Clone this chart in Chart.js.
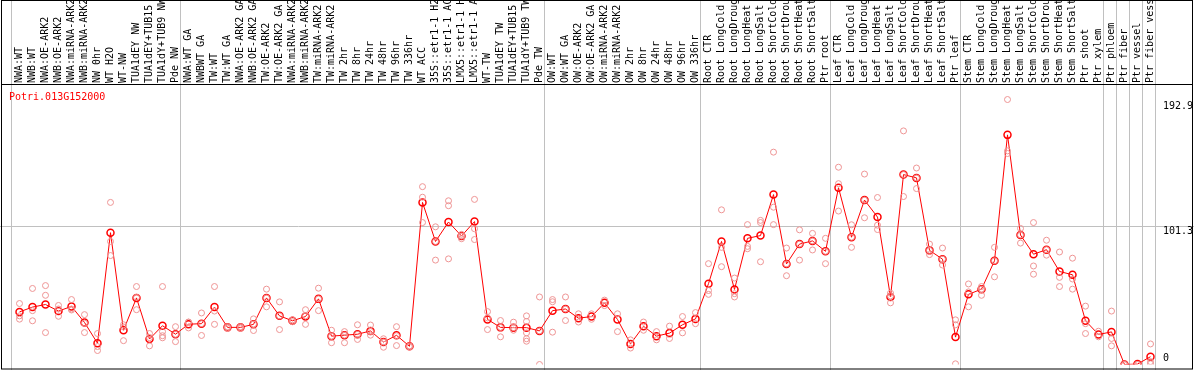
<!DOCTYPE html>
<html>
<head>
<meta charset="utf-8">
<script src="https://cdn.jsdelivr.net/npm/chart.js@4/dist/chart.umd.min.js"></script>
<style>
  html, body { margin: 0; padding: 0; background: #fff; }
</style>
</head>
<body>
<canvas id="chart" width="1194" height="370"></canvas>
<script>
// sample labels
const labels = [
  'NWA:WT', 'NWB:WT', 'NWA:OE-ARK2', 'NWB:OE-ARK2', 'NWA:miRNA-ARK2', 'NWB:miRNA-ARK2', 'NW 0hr', 'WT H2O', 'WT-NW',
  'TUA1dEY NW', 'TUA1dEY+TUB15', 'TUA1dY+TUB9 NW', 'Pde NW',
  'NWA:WT GA', 'NWBWT GA', 'TW:WT', 'TW:WT GA', 'NWA:OE-ARK2 GA', 'NWB:OE-ARK2 GA', 'TW:OE-ARK2', 'TW:OE-ARK2 GA',
  'NWA:miRNA-ARK2', 'NWB:miRNA-ARK2', 'TW:miRNA-ARK2', 'TW:miRNA-ARK2', 'TW 2hr', 'TW 8hr', 'TW 24hr', 'TW 48hr',
  'TW 96hr', 'TW 336hr', 'WT ACC', '35S::etr1-1 H2O', '35S::etr1-1 ACC', 'LMX5::etr1-1 H2O', 'LMX5::etr1-1 ACC',
  'WT-TW', 'TUA1dEY TW', 'TUA1dEY+TUB15', 'TUA1dY+TUB9 TW', 'Pde TW',
  'OW:WT', 'OW:WT GA', 'OW:OE-ARK2', 'OW:OE-ARK2 GA', 'OW:miRNA-ARK2', 'OW:miRNA-ARK2', 'OW 2hr', 'OW 8hr',
  'OW 24hr', 'OW 48hr', 'OW 96hr', 'OW 336hr',
  'Root CTR', 'Root LongCold', 'Root LongDrought', 'Root LongHeat', 'Root LongSalt', 'Root ShortCold',
  'Root ShortDrought', 'Root ShortHeat', 'Root ShortSalt', 'Ptr root',
  'Leaf CTR', 'Leaf LongCold', 'Leaf LongDrought', 'Leaf LongHeat', 'Leaf LongSalt', 'Leaf ShortCold',
  'Leaf ShortDrought', 'Leaf ShortHeat', 'Leaf ShortSalt', 'Ptr leaf',
  'Stem CTR', 'Stem LongCold', 'Stem LongDrought', 'Stem LongHeat', 'Stem LongSalt', 'Stem ShortCold',
  'Stem ShortDrought', 'Stem ShortHeat', 'Stem ShortSalt', 'Ptr shoot',
  'Ptr xylem', 'Ptr phloem', 'Ptr fiber', 'Ptr vessel', 'Ptr fiber vessel'
];

// mean expression per sample (red line)
const means = [
  38.4, 41.9, 43.8, 39.0, 42.4, 30.7, 15.5, 96.2, 25.0, 48.6, 18.6, 28.3, 22.1,
  29.4, 29.8, 41.9, 27.1, 27.1, 29.3, 48.6, 35.5, 31.9, 35.0, 47.9, 20.7, 21.4, 22.1, 24.5, 16.4,
  21.3, 13.3, 118.3, 89.8, 104.0, 93.8, 104.3, 32.9, 27.1, 26.9, 26.9, 24.5,
  39.3, 40.5, 33.8, 35.0, 45.0, 32.9, 15.0, 27.9, 20.7, 22.9, 29.0, 33.3,
  59.0, 89.8, 54.8, 92.1, 94.1, 124.0, 73.4, 87.9, 90.2, 82.6,
  129.0, 92.9, 120.0, 107.6, 49.3, 138.6, 136.2, 83.3, 76.9, 20.0,
  51.2, 55.0, 75.7, 167.6, 94.5, 80.5, 83.8, 67.9, 65.5, 31.9,
  21.9, 23.8, 0, 0.3, 5.7
];

// single replicates per sample (pale circles)
const reps = [
  [44.5, 35.5, 33.1], [55.5, 39.3, 31.9], [57.6, 50.5, 23.3], [43.1, 40.5, 35.2], [47.4, 40.5, 39.8],
  [36.4, 30.2, 23.3], [22.6, 13.1, 10.2], [118.3, 89.8, 79.5], [29.0, 27.4, 17.4], [56.9, 49.0, 40.0],
  [22.6, 19.6, 13.6], [56.9, 24.0, 21.0, 19.5], [27.6, 22.0, 16.7],
  [30.9, 31.0, 26.7], [37.6, 29.8, 21.2], [56.9, 39.0, 29.3], [27.6, 26.6], [27.6, 26.6],
  [33.3, 29.5, 24.8], [55.0, 48.6, 42.1], [45.7, 35.5, 25.5], [32.6, 31.2], [40.0, 35.5, 29.3],
  [55.7, 47.9, 39.3], [25.0, 20.7, 15.9], [24.0, 21.4, 15.9], [29.0, 22.0, 18.3], [28.8, 24.0, 21.4],
  [18.8, 16.4, 12.6], [27.6, 21.0, 13.8], [13.6, 12.8], [129.8, 122.1, 103.6], [100.5, 89.8, 76.2],
  [119.5, 115.9, 77.1], [95.0, 93.8, 91.8], [120.5, 99.1, 91.2], [38.6, 34.0, 25.5], [32.1, 27.0, 20.2],
  [30.9, 26.9, 25.0], [35.5, 31.4, 23.1, 18.8, 17.0], [49.3, 24.5, 0],
  [47.4, 45.8, 23.6], [49.3, 40.5, 32.1], [37.0, 31.0], [37.0, 33.0], [47.0, 43.0], [37.0, 24.0],
  [18.0, 12.0], [31.0, 25.0], [24.0, 18.0], [28.0, 19.0], [35.0, 23.1], [37.9, 29.8],
  [73.6, 54.0, 51.2], [112.9, 85.5, 71.4], [63.1, 51.7, 49.3], [102.1, 86.2, 84.5], [105.2, 103.6, 75.0],
  [155.0, 114.8, 102.1], [85.0, 73.4, 64.8], [98.3, 87.9, 76.2], [95.7, 90.2, 83.6], [92.1, 82.6, 73.6],
  [144.0, 132.0, 112.0], [102.0, 92.9, 85.5], [139.0, 120.0, 107.1], [121.9, 101.7, 98.5], [52.1, 50.0, 45.0],
  [170.5, 138.6, 122.6], [143.4, 136.2, 128.4], [87.9, 83.3, 80.2], [85.0, 76.9, 72.6], [32.6, 29.0, 0.5],
  [58.8, 53.0, 42.1], [56.9, 55.0, 50.5], [85.5, 75.7, 64.0], [193.4, 155.9, 154.0], [99.3, 94.5, 88.6],
  [103.6, 71.9, 65.9], [90.7, 83.8, 79.8], [82.1, 63.6, 56.9], [77.6, 62.4, 55.0], [42.6, 29.8, 22.6],
  [24.3, 20.2], [39.0, 19.0, 13.6], [0, 0], [0, 0], [15.0, 2.1, 0.5]
];

const yTicks = [192.9, 101.3, 0];
const yGrid = [101.3];
// index of the first sample of each block (vertical separators)
const groupStarts = [0, 13, 41, 53, 63, 73, 84, 85, 86, 87];
const geneId = 'Potri.013G152000';

const monoFont = '10px "DejaVu Sans Mono", monospace';

// one dataset per replicate column, aligned with the labels
const maxReps = Math.max(...reps.map(r => r.length));
const repSets = [];
for (let k = 0; k < maxReps; k++) {
  repSets.push({
    label: 'rep ' + (k + 1),
    data: reps.map(r => (k < r.length ? r[k] : null)),
    showLine: false,
    pointRadius: 3,
    pointBorderWidth: 1,
    pointBorderColor: '#ee9494',
    pointBackgroundColor: 'rgba(0,0,0,0)'
  });
}

const decor = {
  id: 'decor',
  beforeDatasetsDraw(chart) {
    const { ctx, scales: { x, y }, width, height } = chart;
    ctx.save();
    ctx.strokeStyle = '#c0c0c0';
    ctx.lineWidth = 1;
    const half = (x.getPixelForValue(1) - x.getPixelForValue(0)) / 2;
    const lines = groupStarts.map(i => Math.floor(x.getPixelForValue(i) - half) - 1.5);
    lines.push(Math.floor(x.right) - 1.5);
    lines.forEach(px => {
      ctx.beginPath();
      ctx.moveTo(px, 0);
      ctx.lineTo(px, height);
      ctx.stroke();
    });
    yGrid.forEach(v => {
      const py = Math.round(y.getPixelForValue(v)) + 0.5;
      ctx.beginPath();
      ctx.moveTo(0, py);
      ctx.lineTo(width, py);
      ctx.stroke();
    });
    ctx.restore();
  },
  afterDraw(chart) {
    const { ctx, scales: { x, y }, width, height, chartArea } = chart;
    ctx.save();
    // frame
    ctx.strokeStyle = '#000';
    ctx.lineWidth = 1;
    ctx.strokeRect(1.5, 0.5, width - 3, height - 1.5);
    ctx.beginPath();
    ctx.moveTo(1, chartArea.top - 0.5);
    ctx.lineTo(width - 1, chartArea.top - 0.5);
    ctx.stroke();

    // sample names, rotated
    ctx.font = monoFont;
    ctx.fillStyle = '#000';
    ctx.textAlign = 'left';
    ctx.textBaseline = 'middle';
    labels.forEach((lab, i) => {
      const px = x.getPixelForValue(i);
      ctx.save();
      ctx.translate(px, chartArea.top - 2);
      ctx.rotate(-Math.PI / 2);
      ctx.fillText(lab, 0, 0);
      ctx.restore();
    });

    // value labels on the right
    yTicks.forEach(v => {
      const py = y.getPixelForValue(v) + (v === 0 ? -6 : 6);
      ctx.fillText(String(v), 1163, py);
    });

    // gene id
    ctx.fillStyle = '#ff0000';
    ctx.fillText(geneId, 9, chartArea.top + 12);
    ctx.restore();
  }
};

new Chart(document.getElementById('chart'), {
  type: 'line',
  data: {
    labels: labels,
    datasets: repSets.concat([
      {
        label: geneId,
        data: means,
        borderColor: '#ff0000',
        borderWidth: 1,
        tension: 0,
        pointRadius: 3.5,
        pointBorderWidth: 1.5,
        pointBorderColor: '#ff0000',
        pointBackgroundColor: 'rgba(0,0,0,0)'
      }
    ])
  },
  options: {
    responsive: false,
    animation: false,
    devicePixelRatio: 1,
    events: [],
    layout: { padding: { left: 13, right: 37, top: 85, bottom: 1 } },
    plugins: { legend: { display: false }, tooltip: { enabled: false } },
    scales: {
      x: { type: 'category', offset: true, display: false },
      y: { min: 0, max: 204, display: false }
    }
  },
  plugins: [decor]
});
</script>
</body>
</html>
